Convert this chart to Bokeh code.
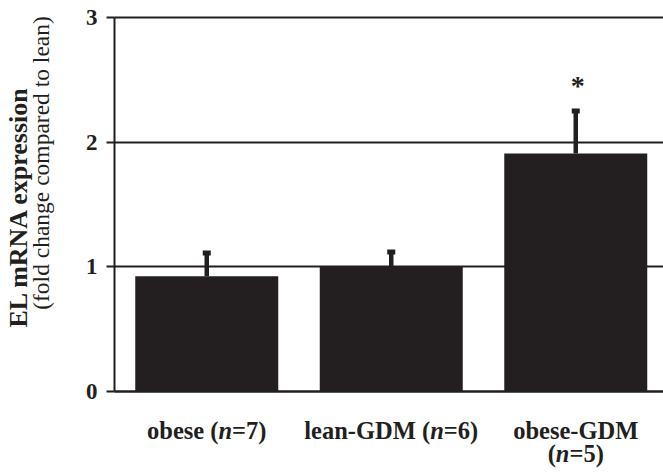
import numpy as np
from bokeh.plotting import figure
from bokeh.models import Range1d, FixedTicker, Label
from bokeh.embed import file_html
from bokeh.resources import INLINE

# ---------------- data ----------------
categories = ["obese", "lean-GDM", "obese-GDM"]
n_values = [7, 6, 5]
means = [0.925, 1.0, 1.91]
sems = [0.186, 0.119, 0.34]
significant = [False, False, True]
y_ticks = [0, 1, 2, 3]
y_title = "EL mRNA expression"
y_subtitle = "(fold change compared to lean)"
# label lines per category: (prefix, italic part, suffix)
label_lines = [
    [("obese (", "n", "=7)")],
    [("lean-GDM (", "n", "=6)")],
    [("obese-GDM", "", ""), ("(", "n", "=5)")],
]

INK = "#231f20"
FONT = "Liberation Serif"
LABEL_FS = 24.5

# Times / Liberation Serif bold advance widths (per 1000 em)
W = {"o": 500, "b": 556, "e": 444, "s": 389, " ": 250, "(": 333, ")": 333,
     "n": 556, "=": 570, "l": 278, "a": 500, "-": 333, "G": 778, "D": 722,
     "M": 944, "5": 500, "6": 500, "7": 500}


def text_w(s, fs):
    return sum(W.get(c, 500) for c in s) * fs / 1000.0


x = np.arange(len(categories)) + 0.5
upper = np.array(means) + np.array(sems)

# frame covers the whole canvas; axes are placed at fixed data locations
X_END = 2.9756
p = figure(width=663, height=473, output_backend="svg", toolbar_location=None,
           x_range=Range1d(-0.6179, X_END), y_range=Range1d(-0.6578, 3.1364),
           min_border_left=0, min_border_right=0,
           min_border_top=0, min_border_bottom=0)
p.outline_line_color = None
p.background_fill_color = "white"

# grid (horizontal lines only over the plotting area, x >= 0)
p.xgrid.visible = False
ygrid = p.ygrid[0]
if "cross_bounds" in ygrid.properties():
    ygrid.ticker = FixedTicker(ticks=y_ticks)
    ygrid.grid_line_color = INK
    ygrid.grid_line_width = 2
    ygrid.cross_bounds = (0, X_END)
else:
    ygrid.visible = False
    p.segment(x0=0, x1=X_END, y0=y_ticks, y1=y_ticks,
              line_color=INK, line_width=2, level="underlay")

# y axis
p.yaxis.fixed_location = 0
p.yaxis.bounds = (0, 3)
p.yaxis.ticker = FixedTicker(ticks=y_ticks)
p.yaxis.axis_line_color = INK
p.yaxis.axis_line_width = 2
p.yaxis.major_tick_line_color = INK
p.yaxis.major_tick_line_width = 2
p.yaxis.major_tick_out = 8
p.yaxis.major_tick_in = 0
p.yaxis.minor_tick_line_color = None
p.yaxis.major_label_text_font = FONT
p.yaxis.major_label_text_font_style = "bold"
p.yaxis.major_label_text_font_size = "23px"
p.yaxis.major_label_text_color = INK
p.yaxis.major_label_standoff = 9

# x axis (line only)
p.xaxis.fixed_location = 0
p.xaxis.bounds = (0, X_END)
p.xaxis.ticker = FixedTicker(ticks=[])
p.xaxis.axis_line_color = INK
p.xaxis.axis_line_width = 2
p.xaxis.major_tick_line_color = None
p.xaxis.minor_tick_line_color = None
p.xaxis.major_label_text_font_size = "0px"

# bars + error bars
p.vbar(x=x, top=means, bottom=0, width=0.775, fill_color=INK, line_color=None)
p.segment(x0=x, y0=means, x1=x, y1=upper, line_width=4.5, line_color=INK)
p.rect(x=x, y=upper, width=8, height=5, width_units="screen",
       height_units="screen", fill_color=INK, line_color=None)

# significance
for xi, ui, sig in zip(x, upper, significant):
    if sig:
        p.add_layout(Label(x=xi, y=ui, text="*", x_offset=2, y_offset=26,
                           text_align="center", text_baseline="alphabetic",
                           text_font=FONT, text_font_style="bold",
                           text_font_size="28px", text_color=INK))

# category labels with italic n
line_offsets = [-39.5, -62.0]
for xi, lines in zip(x, label_lines):
    for li, (pre, ital, post) in enumerate(lines):
        w1, w2, w3 = text_w(pre, LABEL_FS), text_w(ital, LABEL_FS), text_w(post, LABEL_FS)
        start = -(w1 + w2 + w3) / 2.0
        for txt, off, style in ((pre, start, "bold"),
                                (ital, start + w1, "bold italic"),
                                (post, start + w1 + w2, "bold")):
            if not txt:
                continue
            p.add_layout(Label(x=xi, y=0, text=txt, x_offset=off,
                               y_offset=line_offsets[li], text_align="left",
                               text_baseline="alphabetic", text_font=FONT,
                               text_font_style=style,
                               text_font_size=f"{LABEL_FS}px", text_color=INK))

# y axis titles
p.add_layout(Label(x=0, y=1.484, x_offset=-96, angle=np.pi / 2, text=y_title,
                   text_align="center", text_baseline="alphabetic",
                   text_font=FONT, text_font_style="bold",
                   text_font_size="26px", text_color=INK))
p.add_layout(Label(x=0, y=1.833, x_offset=-74, angle=np.pi / 2, text=y_subtitle,
                   text_align="center", text_baseline="alphabetic",
                   text_font=FONT, text_font_style="normal",
                   text_font_size="23.5px", text_color=INK))

open("out.html", "w").write(file_html(p, INLINE))
